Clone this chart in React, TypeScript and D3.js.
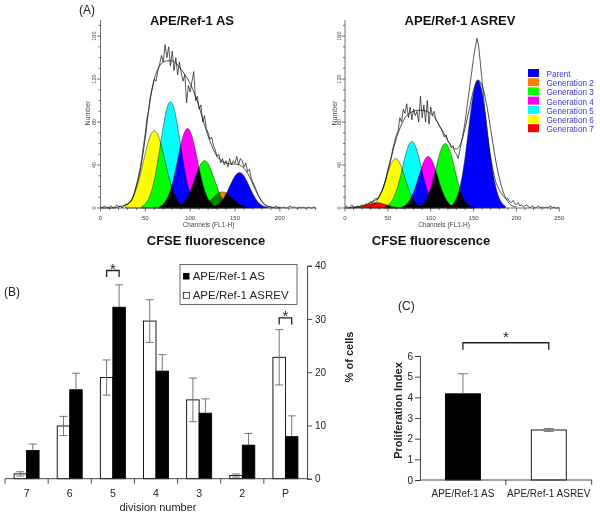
// Three-panel figure: CFSE histograms (A), division distribution (B), proliferation index (C)
import React, { useEffect, useRef } from 'react';
import * as d3 from 'd3';

// ---------- Panel A: CFSE dilution histograms ----------
const generationNames = ['Parent', 'Generation 2', 'Generation 3', 'Generation 4', 'Generation 5', 'Generation 6', 'Generation 7'];
const generationColors = ['#0000ff', '#ff8000', '#00ff00', '#ff00ff', '#00ffff', '#ffff00', '#ff0000'];

// raw histogram, one value every 2 channels starting at channel 0
const asTrace = [
  1, 0, 2, 1, 0, 1, 2, 0, 1, 3, 1, 2, 0, 2, 3,
  3, 5, 6, 10, 15, 21, 28, 36, 46, 58,
  70, 84, 92, 104, 112, 120, 118, 128, 134, 142,
  136, 152, 140, 150, 132, 146, 128, 140, 124, 136,
  126, 118, 124, 98, 114, 108, 118, 127, 100, 104,
  92, 96, 80, 86, 74, 70, 64, 66, 58, 54,
  48, 50, 42, 46, 40, 44, 38, 46, 40, 44,
  42, 48, 40, 46, 44, 38, 42, 34, 36, 28,
  24, 20, 16, 12, 9, 6, 4, 3, 2, 1,
  1, 0, 1, 2, 0, 1, 0, 1, 0, 0, 1, 2, 0, 1, 0, 0, 1, 0, 1, 0, 0, 1, 0, 0, 1, 0, 1, 0, 0, 1, 0,
];
const asrevTrace = [
  1, 2, 0, 1, 3, 1, 0, 2, 1, 2, 3, 2, 4, 3, 5,
  6, 5, 8, 9, 8, 11, 14, 17, 22, 28,
  36, 42, 48, 56, 62, 68, 72, 84, 80, 92,
  88, 97, 84, 94, 82, 92, 86, 90, 80, 104,
  84, 96, 80, 100, 78, 94, 86, 90, 82, 80,
  76, 74, 70, 66, 68, 62, 60, 56, 58, 52,
  50, 46, 54, 62, 70, 80, 92, 104, 116, 128,
  140, 150, 158, 150, 134, 118, 100, 84, 70, 56,
  46, 38, 30, 24, 20, 17, 14, 12, 10, 8,
  9, 6, 5, 7, 4, 3, 5, 2, 3, 1, 2, 3, 1, 0, 2, 1, 0, 1, 2, 0, 1, 0, 1, 0, 1, 2, 0, 1, 0, 0, 1,
];

// fitted envelope, one value every 5 channels starting at channel 0
const asFit = [
  0, 0, 0, 0, 1, 2, 4, 8, 20, 38,
  66, 100, 120, 131, 136, 137, 137, 134, 129, 123,
  116, 106, 94, 80, 67, 56, 48, 44, 42, 41,
  41, 40, 37, 31, 22, 13, 6, 2, 1, 0, 0,
];
const asrevFit = [
  0, 0, 1, 1, 2, 3, 5, 7, 11, 20,
  34, 50, 65, 76, 84, 88, 90, 91, 91, 90,
  88, 84, 77, 70, 63, 57, 55, 60, 74, 92,
  110, 119, 114, 97, 73, 48, 28, 14, 6, 2, 1,
];

// modelled generation peaks (order = generationNames): first channel, then a count every 4 channels
const asPeakStart = [123, 104, 84, 65, 46, 28, 0];
const asPeakCounts = [
  [0.5, 1.3, 3.1, 6.3, 11.5, 18.2, 25.3, 30.9, 33, 30.9, 25.3, 18.2, 11.5, 6.3, 3.1, 1.3, 0.5],
  [0.2, 0.6, 1.4, 2.9, 5.2, 8.3, 11.5, 14, 15, 14, 11.5, 8.3, 5.2, 2.9, 1.4, 0.6, 0.2],
  [0.6, 1.7, 4.1, 8.4, 15.3, 24.3, 33.8, 41.2, 44, 41.2, 33.8, 24.3, 15.3, 8.4, 4.1, 1.7, 0.6],
  [1.1, 2.9, 6.9, 14.1, 25.7, 40.8, 56.8, 69.3, 74, 69.3, 56.8, 40.8, 25.7, 14.1, 6.9, 2.9, 1.1],
  [1.4, 3.9, 9.2, 18.9, 34.4, 54.6, 76, 92.7, 99, 92.7, 76, 54.6, 34.4, 18.9, 9.2, 3.9, 1.4],
  [2.1, 4.8, 9.7, 17.9, 29.6, 43.7, 57.7, 68.1, 72, 68.1, 57.7, 43.7, 29.6, 17.9, 9.7, 4.8, 2.1],
  [],
];
const asrevPeakStart = [123, 120, 85, 65, 46, 27, 5];
const asrevPeakCounts = [
  [1.7, 4.6, 11.1, 22.7, 41.3, 65.7, 91.4, 111.4, 119, 111.4, 91.4, 65.7, 41.3, 22.7, 11.1, 4.6, 1.7],
  [0.1, 0.3, 0.5, 0.8, 1, 0.8, 0.5, 0.3, 0.1],
  [0.9, 2.3, 5.6, 11.5, 20.8, 33.1, 46.1, 56.2, 60, 56.2, 46.1, 33.1, 20.8, 11.5, 5.6, 2.3, 0.9],
  [0.7, 1.9, 4.5, 9.2, 16.7, 26.5, 36.9, 44.9, 48, 44.9, 36.9, 26.5, 16.7, 9.2, 4.5, 1.9, 0.7],
  [0.9, 2.4, 5.8, 11.8, 21.5, 34.2, 47.6, 58, 62, 58, 47.6, 34.2, 21.5, 11.8, 5.8, 2.4, 0.9],
  [0.7, 1.8, 4.3, 8.8, 16, 25.4, 35.3, 43, 46, 43, 35.3, 25.4, 16, 8.8, 4.3, 1.8, 0.7],
  [0.1, 0.2, 0.5, 1, 1.7, 2.8, 3.8, 4.7, 5, 4.7, 3.8, 2.8, 1.7, 1, 0.5, 0.2, 0.1],
];

// ---------- Panel B: % of cells per division ----------
const divisions = ['7', '6', '5', '4', '3', '2', 'P'];
const asPct = [5.3, 16.7, 32.2, 20.2, 12.3, 6.3, 7.9];
const asPctErr = [1.2, 3.1, 4.2, 3.1, 2.7, 2.2, 3.9];
const asrevPct = [0.9, 9.9, 19.0, 29.6, 14.8, 0.6, 22.8];
const asrevPctErr = [0.4, 1.8, 3.3, 4.0, 4.1, 0.3, 5.2];
const sigDivisions = ['5', 'P'];
const sigDivisionLevels = [39.1, 30.2];

// ---------- Panel C: proliferation index ----------
const groups = ['APE/Ref-1 AS', 'APE/Ref-1 ASREV'];
const prolifIndex = [4.17, 2.42];
const prolifErr = [0.97, 0.07];
const sigGroupLevel = 6.64;

const FONT = "'Liberation Sans', Arial, Helvetica, sans-serif";

const App: React.FC = () => {
  const svgRef = useRef<SVGSVGElement>(null);

  useEffect(() => {
    const svg = d3.select(svgRef.current);
    svg.selectAll('*').remove();
    svg.attr('font-family', FONT);

    // ================= Panel A =================
    svg.append('text').attr('x', 79).attr('y', 14).style('font-size', '12px').attr('fill', '#222').text('(A)');

    const yA = d3.scaleLinear().domain([0, 175]).range([208, 20]);

    const drawHistogram = (cfg: {
      x0: number; x1: number; axisMax: number; labelMax: number;
      trace: number[]; fit: number[]; peakStart: number[]; peakCounts: number[][];
      title: string; titleX: number; cfseX: number; numberX: number; channelsX: number;
    }) => {
      const x = d3.scaleLinear().domain([0, 250]).range([cfg.x0, cfg.x1]);
      const g = svg.append('g');

      // generation peaks, overlaps blended like the ModFit output
      const peaks = g.append('g').style('isolation', 'isolate');
      cfg.peakCounts.forEach((counts, i) => {
        if (!counts.length) return;
        const pts = counts.map((c, j) => [cfg.peakStart[i] + j * 4, c] as [number, number]);
        const area = d3
          .area<[number, number]>()
          .x((d) => x(d[0]))
          .y0(yA(0))
          .y1((d) => yA(d[1]))
          .curve(d3.curveMonotoneX);
        peaks
          .append('path')
          .datum(pts)
          .attr('d', area)
          .attr('fill', generationColors[i])
          .attr('stroke', '#222')
          .attr('stroke-width', 0.5)
          .style('mix-blend-mode', 'multiply');
      });

      // fitted envelope
      const fitLine = d3
        .line<number>()
        .x((_, i) => x(i * 5))
        .y((d) => yA(d))
        .curve(d3.curveMonotoneX);
      g.append('path').datum(cfg.fit).attr('d', fitLine).attr('fill', 'none').attr('stroke', '#222').attr('stroke-width', 0.8);

      // raw trace
      const tracePts = cfg.trace.map((v, i) => [i * 2, v] as [number, number]).filter((d) => d[0] <= cfg.axisMax);
      const traceLine = d3
        .line<[number, number]>()
        .x((d) => x(d[0]))
        .y((d) => yA(d[1]));
      g.append('path').datum(tracePts).attr('d', traceLine).attr('fill', 'none').attr('stroke', '#111').attr('stroke-width', 0.7);

      // axes
      const ax = g.append('g').attr('stroke', '#333').attr('stroke-width', 0.7);
      ax.append('line').attr('x1', x(0)).attr('x2', x(cfg.axisMax)).attr('y1', yA(0)).attr('y2', yA(0));
      ax.append('line').attr('x1', x(0)).attr('x2', x(0)).attr('y1', yA(0)).attr('y2', yA(175));
      d3.range(0, cfg.axisMax + 1, 10).forEach((c) => {
        ax.append('line')
          .attr('x1', x(c)).attr('x2', x(c))
          .attr('y1', yA(0)).attr('y2', yA(0) + (c % 50 === 0 ? 3.5 : 2));
      });
      d3.range(0, 171, 10).forEach((c) => {
        ax.append('line')
          .attr('x1', x(0)).attr('x2', x(0) - (c % 40 === 0 ? 3.5 : 2))
          .attr('y1', yA(c)).attr('y2', yA(c));
      });
      d3.range(0, cfg.labelMax + 1, 50).forEach((c) => {
        g.append('text')
          .attr('x', x(c)).attr('y', 220)
          .attr('text-anchor', 'middle')
          .style('font-size', '6px').attr('fill', '#444')
          .text(c);
      });
      [0, 40, 80, 120, 160].forEach((c) => {
        g.append('text')
          .attr('transform', `translate(${x(0) - 4.2},${yA(c)}) rotate(-90)`)
          .attr('text-anchor', 'middle')
          .style('font-size', '5.5px').attr('fill', '#444')
          .text(c);
      });

      g.append('text')
        .attr('transform', `translate(${cfg.numberX},113) rotate(-90)`)
        .attr('text-anchor', 'middle')
        .style('font-size', '7px').attr('fill', '#444')
        .text('Number');
      g.append('text')
        .attr('x', cfg.channelsX).attr('y', 227)
        .attr('text-anchor', 'middle')
        .style('font-size', '6.5px').attr('fill', '#444')
        .text('Channels (FL1-H)');
      g.append('text')
        .attr('x', cfg.titleX).attr('y', 25)
        .attr('text-anchor', 'middle')
        .style('font-size', '13px').style('font-weight', 'bold').attr('fill', '#111')
        .text(cfg.title);
      g.append('text')
        .attr('x', cfg.cfseX).attr('y', 245)
        .attr('text-anchor', 'middle')
        .style('font-size', '13px').style('font-weight', 'bold').attr('fill', '#111')
        .text('CFSE fluorescence');
    };

    drawHistogram({
      x0: 100.5, x1: 324.7, axisMax: 240, labelMax: 200,
      trace: asTrace, fit: asFit, peakStart: asPeakStart, peakCounts: asPeakCounts,
      title: 'APE/Ref-1 AS', titleX: 192, cfseX: 206, numberX: 89.5, channelsX: 208.5,
    });
    drawHistogram({
      x0: 345, x1: 559.3, axisMax: 250, labelMax: 250,
      trace: asrevTrace, fit: asrevFit, peakStart: asrevPeakStart, peakCounts: asrevPeakCounts,
      title: 'APE/Ref-1 ASREV', titleX: 460, cfseX: 431, numberX: 336.5, channelsX: 444,
    });

    // generation legend
    const legA = svg.append('g');
    generationNames.forEach((name, i) => {
      legA.append('rect')
        .attr('x', 528).attr('y', 69 + i * 9.2)
        .attr('width', 11).attr('height', 8)
        .attr('fill', generationColors[i]);
      legA.append('text')
        .attr('x', 546.5).attr('y', 77 + i * 9.2)
        .style('font-size', '8.2px').attr('fill', '#3a3acf')
        .text(name);
    });

    // ================= Panel B =================
    const xB = d3.scaleBand<string>().domain(divisions).range([5, 307]).padding(0);
    const yB = d3.scaleLinear().domain([0, 40]).range([478.7, 265.7]);
    const barW = 12.5;
    const gB = svg.append('g');

    svg.append('text').attr('x', 4).attr('y', 296).style('font-size', '12px').attr('fill', '#222').text('(B)');

    // error bar; lower half skipped for solid black bars where it cannot be seen
    const drawErr = (
      g: d3.Selection<SVGGElement, unknown, null, undefined>,
      cx: number, v: number, e: number, y: d3.ScaleLinear<number, number>, cap: number, lower: boolean,
    ) => {
      g.append('line').attr('x1', cx).attr('x2', cx).attr('y1', y(lower ? v - e : v)).attr('y2', y(v + e));
      g.append('line').attr('x1', cx - cap / 2).attr('x2', cx + cap / 2).attr('y1', y(v + e)).attr('y2', y(v + e));
      if (lower) {
        g.append('line').attr('x1', cx - cap / 2).attr('x2', cx + cap / 2).attr('y1', y(v - e)).attr('y2', y(v - e));
      }
    };

    divisions.forEach((d, i) => {
      const c = (xB(d) as number) + xB.bandwidth() / 2;
      gB.append('rect')
        .attr('x', c - barW).attr('y', yB(asrevPct[i]))
        .attr('width', barW).attr('height', yB(0) - yB(asrevPct[i]))
        .attr('fill', '#fff').attr('stroke', '#000').attr('stroke-width', 0.9);
      gB.append('rect')
        .attr('x', c).attr('y', yB(asPct[i]))
        .attr('width', barW).attr('height', yB(0) - yB(asPct[i]))
        .attr('fill', '#000').attr('stroke', '#000').attr('stroke-width', 0.9);
    });
    const errB = gB.append('g').attr('stroke', '#666').attr('stroke-width', 0.9);
    divisions.forEach((d, i) => {
      const c = (xB(d) as number) + xB.bandwidth() / 2;
      drawErr(errB, c - barW / 2, asrevPct[i], asrevPctErr[i], yB, 8, true);
      drawErr(errB, c + barW / 2, asPct[i], asPctErr[i], yB, 8, false);
    });

    // x axis
    const axB = gB.append('g').attr('stroke', '#333').attr('stroke-width', 0.9);
    axB.append('line').attr('x1', 5).attr('x2', 307).attr('y1', yB(0)).attr('y2', yB(0));
    divisions.forEach((d) => {
      const x0 = xB(d) as number;
      axB.append('line').attr('x1', x0).attr('x2', x0).attr('y1', yB(0)).attr('y2', yB(0) + 5);
    });
    divisions.forEach((d) => {
      gB.append('text')
        .attr('x', (xB(d) as number) + xB.bandwidth() / 2).attr('y', 497)
        .attr('text-anchor', 'middle')
        .style('font-size', '10.5px').attr('fill', '#222')
        .text(d);
    });
    gB.append('text')
      .attr('x', 158).attr('y', 511)
      .attr('text-anchor', 'middle')
      .style('font-size', '11px').attr('fill', '#222')
      .text('division number');

    // right y axis
    const yAxisB = gB.append('g')
      .attr('transform', 'translate(307,0)')
      .call(d3.axisRight(yB).tickValues([0, 10, 20, 30, 40]).tickSize(5).tickPadding(3));
    yAxisB.select('.domain').attr('stroke', '#333').attr('stroke-width', 0.9);
    yAxisB.selectAll('.tick line').attr('stroke', '#333').attr('stroke-width', 0.9);
    yAxisB.selectAll('.tick text').style('font-size', '10px').style('font-family', FONT).attr('fill', '#222');
    gB.append('text')
      .attr('transform', 'translate(353,357) rotate(-90)')
      .attr('text-anchor', 'middle')
      .style('font-size', '11px').style('font-weight', 'bold').attr('fill', '#222')
      .text('% of cells');

    // legend
    const legB = gB.append('g');
    legB.append('rect').attr('x', 180).attr('y', 264.5).attr('width', 117).attr('height', 40)
      .attr('fill', '#fff').attr('stroke', '#444').attr('stroke-width', 0.8);
    legB.append('rect').attr('x', 183).attr('y', 273).attr('width', 6.5).attr('height', 6.5).attr('fill', '#000');
    legB.append('rect').attr('x', 183.3).attr('y', 292.3).attr('width', 6).attr('height', 6)
      .attr('fill', '#fff').attr('stroke', '#000').attr('stroke-width', 0.7);
    legB.append('text').attr('x', 192.7).attr('y', 280).style('font-size', '11.5px').attr('fill', '#222').text(groups[0]);
    legB.append('text').attr('x', 192.7).attr('y', 299).style('font-size', '11.5px').attr('fill', '#222').text(groups[1]);

    // significance brackets
    sigDivisions.forEach((d, i) => {
      const c = (xB(d) as number) + xB.bandwidth() / 2;
      const xl = c - barW / 2;
      const xr = c + barW / 2;
      const top = yB(sigDivisionLevels[i]);
      gB.append('path')
        .attr('d', `M${xl},${top + 6.5}V${top}H${xr}V${top + 6.5}`)
        .attr('fill', 'none').attr('stroke', '#222').attr('stroke-width', 1.3);
      gB.append('text')
        .attr('x', c).attr('y', top - 5.5 + 0.575 * 15)
        .attr('text-anchor', 'middle')
        .style('font-size', '15px').attr('fill', '#222')
        .text('*');
    });

    // ================= Panel C =================
    const gC = svg.append('g');
    svg.append('text').attr('x', 398).attr('y', 310).style('font-size', '12px').attr('fill', '#222').text('(C)');
    const xC = d3.scaleBand<string>().domain(groups).range([420, 591.7]).padding(0);
    const yC = d3.scaleLinear().domain([0, 6]).range([480, 356]);
    const barWC = 35;

    groups.forEach((grp, i) => {
      const c = (xC(grp) as number) + xC.bandwidth() / 2;
      gC.append('rect')
        .attr('x', c - barWC / 2).attr('y', yC(prolifIndex[i]))
        .attr('width', barWC).attr('height', yC(0) - yC(prolifIndex[i]))
        .attr('fill', i === 0 ? '#000' : '#fff').attr('stroke', '#000').attr('stroke-width', 0.9);
    });
    const errC = gC.append('g').attr('stroke', '#666').attr('stroke-width', 0.9);
    groups.forEach((grp, i) => {
      const c = (xC(grp) as number) + xC.bandwidth() / 2;
      drawErr(errC, c, prolifIndex[i], prolifErr[i], yC, 10, i !== 0);
    });

    const axC = gC.append('g').attr('stroke', '#333').attr('stroke-width', 0.9);
    axC.append('line').attr('x1', 420).attr('x2', 591.7).attr('y1', yC(0)).attr('y2', yC(0));
    groups.forEach((grp) => {
      const xr = (xC(grp) as number) + xC.bandwidth();
      axC.append('line').attr('x1', xr).attr('x2', xr).attr('y1', yC(0)).attr('y2', yC(0) + 5);
    });
    groups.forEach((grp) => {
      gC.append('text')
        .attr('x', (xC(grp) as number) + xC.bandwidth() / 2).attr('y', 497)
        .attr('text-anchor', 'middle')
        .style('font-size', '10px').attr('fill', '#222')
        .text(grp);
    });
    const yAxisC = gC.append('g')
      .attr('transform', 'translate(420,0)')
      .call(d3.axisLeft(yC).tickValues([0, 1, 2, 3, 4, 5, 6]).tickFormat(d3.format('d')).tickSize(5).tickPadding(2));
    yAxisC.select('.domain').attr('stroke', '#333').attr('stroke-width', 0.9);
    yAxisC.selectAll('.tick line').attr('stroke', '#333').attr('stroke-width', 0.9);
    yAxisC.selectAll('.tick text').style('font-size', '10px').style('font-family', FONT).attr('fill', '#222');
    gC.append('text')
      .attr('transform', 'translate(401.5,410.5) rotate(-90)')
      .attr('text-anchor', 'middle')
      .style('font-size', '11px').style('font-weight', 'bold').attr('fill', '#222')
      .text('Proliferation Index');

    // bracket between the two groups
    const cl = (xC(groups[0]) as number) + xC.bandwidth() / 2;
    const cr = (xC(groups[1]) as number) + xC.bandwidth() / 2;
    const topC = yC(sigGroupLevel);
    gC.append('path')
      .attr('d', `M${cl},${topC + 7}V${topC}H${cr}V${topC + 7}`)
      .attr('fill', 'none').attr('stroke', '#222').attr('stroke-width', 1.3);
    gC.append('text')
      .attr('x', (cl + cr) / 2).attr('y', topC - 9 + 0.575 * 15)
      .attr('text-anchor', 'middle')
      .style('font-size', '15px').attr('fill', '#222')
      .text('*');
  }, []);

  return (
    <svg
      ref={svgRef}
      width={600}
      height={517}
      style={{ position: 'absolute', left: 0, top: 0, background: '#fff' }}
    />
  );
};

export default App;
